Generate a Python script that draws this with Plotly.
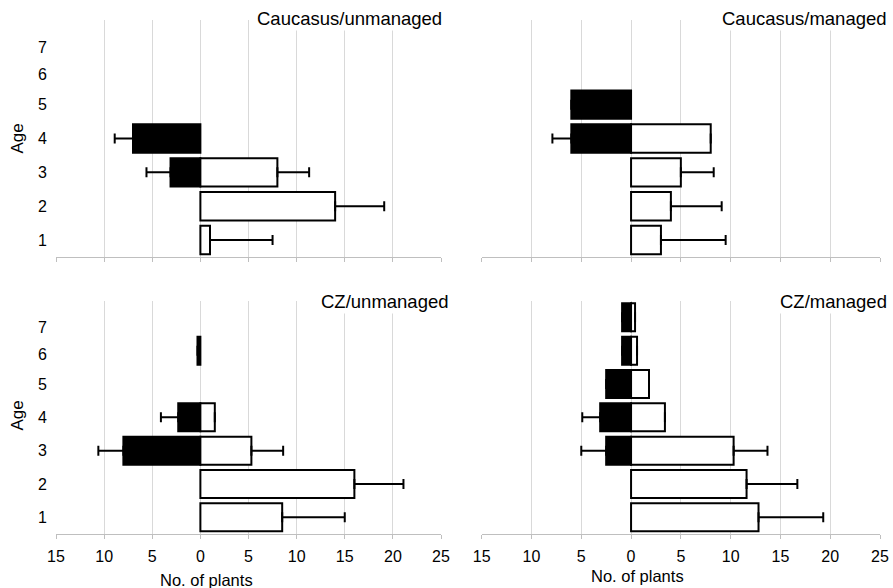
import plotly.graph_objects as go

# ---- data ----
ages = [1, 2, 3, 4, 5, 6, 7]
age_labels = ["1", "2", "3", "4", "5", "6", "7"]
panel_titles = ["Caucasus/unmanaged", "Caucasus/managed", "CZ/unmanaged", "CZ/managed"]

# black bars (plotted to the left), white bars (plotted to the right); None = no bar
cau_unm_black = [None, None, 3.1, 7.0, None, None, None]
cau_unm_black_err = [None, None, 2.5, 1.9, None, None, None]
cau_unm_white = [1.0, 14.0, 8.0, None, None, None, None]
cau_unm_white_err = [6.5, 5.1, 3.3, None, None, None, None]

cau_man_black = [None, None, None, 6.0, 6.0, None, None]
cau_man_black_err = [None, None, None, 1.9, 0, None, None]
cau_man_white = [3.0, 4.0, 5.0, 8.0, None, None, None]
cau_man_white_err = [6.5, 5.1, 3.3, 0, None, None, None]

cz_unm_black = [None, None, 8.0, 2.3, None, 0.3, None]
cz_unm_black_err = [None, None, 2.6, 1.8, None, 0, None]
cz_unm_white = [8.5, 16.0, 5.3, 1.5, None, None, None]
cz_unm_white_err = [6.5, 5.1, 3.3, 0, None, None, None]

cz_man_black = [None, None, 2.5, 3.1, 2.5, 0.9, 0.9]
cz_man_black_err = [None, None, 2.5, 1.8, 0, 0, 0]
cz_man_white = [12.8, 11.6, 10.3, 3.4, 1.8, 0.6, 0.4]
cz_man_white_err = [6.5, 5.1, 3.4, 0, 0, 0, 0]

x_tickvals = [-15, -10, -5, 0, 5, 10, 15, 20, 25]
x_ticktext = ["15", "10", "5", "0", "5", "10", "15", "20", "25"]
y_tickvals = [1, 2, 3, 4, 5, 5.9, 6.7]

panels = [
    (cau_unm_black, cau_unm_black_err, cau_unm_white, cau_unm_white_err),
    (cau_man_black, cau_man_black_err, cau_man_white, cau_man_white_err),
    (cz_unm_black, cz_unm_black_err, cz_unm_white, cz_unm_white_err),
    (cz_man_black, cz_man_black_err, cz_man_white, cz_man_white_err),
]

W, H = 893, 588
FONT = "Liberation Sans, Arial, Helvetica, sans-serif"
GRID = "#d9d9d9"
AXIS = "#bfbfbf"


def px_x(p):
    return p / W


def px_y(p):
    return 1 - p / H


x_domains = [[px_x(56), px_x(441)], [px_x(481.7), px_x(880)]]
y_domains = [[px_y(257), px_y(20)], [px_y(534), px_y(300.7)]]

fig = go.Figure()

for i, (blk, blk_err, wht, wht_err) in enumerate(panels):
    n = i + 1
    xa = "x" if n == 1 else f"x{n}"
    ya = "y" if n == 1 else f"y{n}"
    neg = [(-v if v is not None else None) for v in blk]
    fig.add_trace(go.Bar(
        y=ages, x=neg, orientation="h", xaxis=xa, yaxis=ya, width=0.84,
        marker=dict(color="black", line=dict(color="black", width=2)),
        error_x=dict(type="data", symmetric=False,
                     array=[0 if e is not None else None for e in blk_err],
                     arrayminus=blk_err, color="black", thickness=2, width=5),
        showlegend=False, hoverinfo="x+y",
    ))
    fig.add_trace(go.Bar(
        y=ages, x=wht, orientation="h", xaxis=xa, yaxis=ya, width=0.84,
        marker=dict(color="white", line=dict(color="black", width=2)),
        error_x=dict(type="data", symmetric=False, array=wht_err,
                     arrayminus=[0 if e is not None else None for e in wht_err],
                     color="black", thickness=2, width=5),
        showlegend=False, hoverinfo="x+y",
    ))

layout = dict(
    width=W, height=H, margin=dict(l=0, r=0, t=0, b=0, pad=0, autoexpand=False),
    paper_bgcolor="white", plot_bgcolor="white", barmode="overlay",
    font=dict(family=FONT, color="black"),
)

for i in range(4):
    n = i + 1
    col = i % 2
    row = i // 2
    xk = "xaxis" if n == 1 else f"xaxis{n}"
    yk = "yaxis" if n == 1 else f"yaxis{n}"
    layout[xk] = dict(
        domain=x_domains[col], anchor="y" if n == 1 else f"y{n}",
        range=[-15, 25], tickvals=x_tickvals, ticktext=x_ticktext,
        showticklabels=(row == 1), tickfont=dict(size=16, family=FONT),
        showgrid=True, gridcolor=GRID, gridwidth=1, zeroline=False,
        showline=True, linecolor=AXIS, linewidth=1, automargin=False,
        ticks="outside", ticklen=4, tickcolor=AXIS, fixedrange=True,
        ticklabelstandoff=4,
    )
    layout[yk] = dict(
        domain=y_domains[row], anchor="x" if n == 1 else f"x{n}",
        range=[0.5, 7.5], tickvals=y_tickvals, ticktext=age_labels,
        showticklabels=(col == 0), tickfont=dict(size=16, family=FONT),
        showgrid=False, zeroline=False, showline=False, ticks="",
        ticklabelstandoff=8, automargin=False, fixedrange=True,
    )

fig.update_layout(**layout)

annotations = []
title_pos = [(444, 18.5), (889, 18.5), (451, 301), (889, 301)]
for t, (px, py) in zip(panel_titles, title_pos):
    annotations.append(dict(
        text=t, xref="paper", yref="paper", x=px_x(px), y=px_y(py),
        xanchor="right", yanchor="middle", showarrow=False,
        font=dict(size=18.5, family=FONT, color="black"),
        bgcolor="white", borderpad=1,
    ))
for py in (139, 416):
    annotations.append(dict(
        text="Age", xref="paper", yref="paper", x=px_x(16.5), y=px_y(py),
        xanchor="center", yanchor="middle", showarrow=False, textangle=-90,
        font=dict(size=17, family=FONT, color="black"),
    ))
for px, py in ((206.5, 580), (637.5, 576)):
    annotations.append(dict(
        text="No. of plants", xref="paper", yref="paper", x=px_x(px), y=px_y(py),
        xanchor="center", yanchor="middle", showarrow=False,
        font=dict(size=16.5, family=FONT, color="black"),
    ))
fig.update_layout(annotations=annotations)

# remove the default 8px page margin so the figure fills the window exactly
fig.write_html(
    "out.html",
    config={"displayModeBar": False},
    post_script="document.body.style.margin='0';document.body.style.overflow='hidden';",
)
